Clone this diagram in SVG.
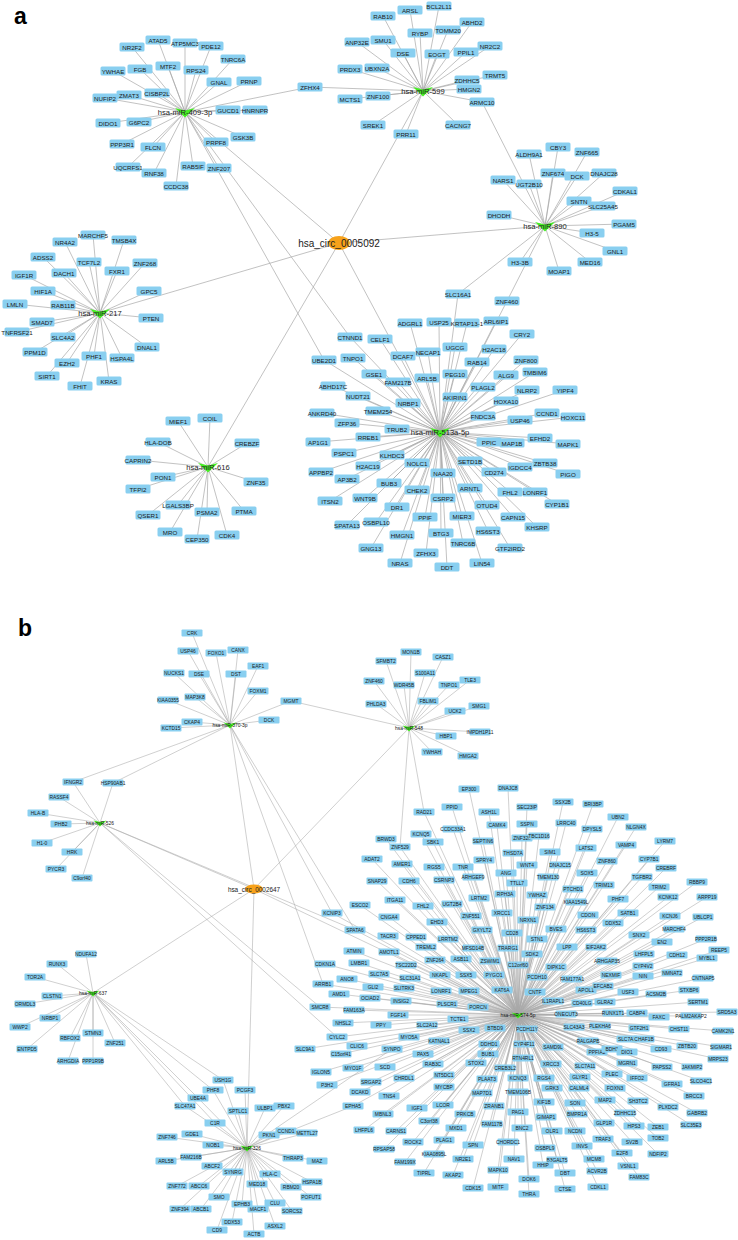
<svg xmlns="http://www.w3.org/2000/svg" xmlns:xlink="http://www.w3.org/1999/xlink" width="738" height="1240" viewBox="0 0 738 1240">
<style>
.e{fill:none;stroke:#a8a8a8;stroke-width:.7}
.eb{fill:none;stroke:#a8a8a8;stroke-width:.55}
text{font-family:"Liberation Sans",Arial,sans-serif;fill:#1a1a1a;text-anchor:middle;dominant-baseline:central}
.na text{font-size:6.2px}
.nb text{font-size:4.9px}
.ha{font-size:7.6px;fill:#222}
.hb{font-size:4.9px;fill:#111}
.ca{font-size:10px;fill:#222}
.cb{font-size:6.4px;fill:#222}
.pl{font-size:23px;font-weight:bold;text-anchor:start;dominant-baseline:auto;fill:#000}
</style>
<defs>
<rect id="ba" x="-12.5" y="-4.5" width="25" height="9" rx="1.5" fill="#89cff0"/>
<rect id="bb" x="-10.5" y="-3.5" width="21" height="7" rx="1" fill="#89cff0"/>
<polygon id="ta" points="-10,-4 0,-1.5 10,-4 0,5.5" fill="#44ee22"/>
<polygon id="tb" points="-6.5,-2.5 0,-1 6.5,-2.5 0,3.5" fill="#44ee22"/>
</defs>
<rect width="738" height="1240" fill="#fff"/>
<text class="pl" x="14" y="24">a</text>
<text class="pl" x="18" y="636">b</text>
<g id="connectors">
<path class="e" d="M339 243L185 112M339 243L423 91M339 243L545 226M339 243L100 313M339 243L208 467M339 243L440 432"/>
<path class="e" d="M185 112L158 40M185 112L132 47M185 112L185 43M185 112L211 46M185 112L233 59M185 112L113 71M185 112L140 69M185 112L168 66M185 112L196 70M185 112L219 82M185 112L249 81M185 112L105 98M185 112L129 95M185 112L157 93M185 112L228 110M185 112L255 110M185 112L108 123M185 112L139 122M185 112L243 137M185 112L122 144M185 112L153 147M185 112L216 142M185 112L128 167M185 112L154 173M185 112L193 166M185 112L219 168M185 112L176 186M185 112L310 87M185 112L324 360M185 112L350 337"/>
<path class="e" d="M423 91L410 10M423 91L439 6M423 91L383 16M423 91L472 22M423 91L448 30M423 91L420 33M423 91L357 42M423 91L383 40M423 91L403 53M423 91L437 54M423 91L466 52M423 91L490 46M423 91L350 69M423 91L377 68M423 91L495 75M423 91L467 80M423 91L469 89M423 91L310 87M423 91L350 99M423 91L378 96M423 91L482 102M423 91L373 125M423 91L458 125M423 91L406 134"/>
<path class="e" d="M545 226L558 147M545 226L587 152M545 226L529 154M545 226L553 173M545 226L577 176M545 226L604 173M545 226L503 180M545 226L529 184M545 226L625 191M545 226L579 201M545 226L603 206M545 226L499 215M545 226L624 224M545 226L592 233M545 226L615 251M545 226L590 262M545 226L520 262M545 226L559 271M545 226L482 102M545 226L458 294M545 226L507 301"/>
<path class="e" d="M100 313L93 235M100 313L65 242M100 313L124 240M100 313L43 257M100 313L89 262M100 313L145 263M100 313L24 275M100 313L64 273M100 313L117 271M100 313L43 291M100 313L149 291M100 313L15 304M100 313L63 305M100 313L151 318M100 313L42 322M100 313L17 332M100 313L63 337M100 313L147 347M100 313L35 352M100 313L94 356M100 313L122 358M100 313L67 363M100 313L47 376M100 313L109 381M100 313L80 386"/>
<path class="e" d="M208 467L178 421M208 467L210 418M208 467L158 442M208 467L247 443M208 467L138 460M208 467L163 477M208 467L256 482M208 467L138 489M208 467L178 505M208 467L244 511M208 467L148 515M208 467L207 512M208 467L170 532M208 467L227 535M208 467L197 539"/>
<path class="e" d="M440 432L458 294M440 432L507 301M440 432L410 323M440 432L439 322M440 432L467 323M440 432L496 321M440 432L522 334M440 432L350 337M440 432L380 339M440 432L455 347M440 432L494 349M440 432L403 356M440 432L428 352M440 432L526 360M440 432L324 360M440 432L353 358M440 432L477 362M440 432L535 372M440 432L374 374M440 432L398 382M440 432L427 378M440 432L455 374M440 432L506 375M440 432L333 386M440 432L483 387M440 432L527 390M440 432L565 390M440 432L358 396M440 432L455 397M440 432L506 401M440 432L408 403M440 432L322 413M440 432L378 411M440 432L483 416M440 432L547 413M440 432L573 417M440 432L520 420M440 432L347 423M440 432L397 429M440 432L368 437M440 432L318 442M440 432L489 442M440 432L512 443M440 432L540 438M440 432L568 444M440 432L344 453M440 432L392 455M440 432L470 461M440 432L545 463M440 432L417 463M440 432L368 466M440 432L520 467M440 432L568 474M440 432L321 472M440 432L443 473M440 432L494 472M440 432L347 479M440 432L389 483M440 432L470 488M440 432L417 490M440 432L510 492M440 432L535 492M440 432L365 498M440 432L330 501M440 432L443 498M440 432L557 504M440 432L487 505M440 432L397 507M440 432L425 517M440 432L462 516M440 432L513 517M440 432L347 525M440 432L376 522M440 432L537 527M440 432L402 535M440 432L441 533M440 432L488 531M440 432L463 543M440 432L371 548M440 432L510 548M440 432L426 553M440 432L400 563M440 432L482 563M440 432L447 567"/>
<path class="eb" d="M254 889L230 725M254 889L409 728M254 889L100 823M254 889L93 993M254 889L247 1148M254 889L518 1015"/>
<path class="eb" d="M230 725L192 633M230 725L188 651M230 725L216 653M230 725L238 650M230 725L258 666M230 725L174 673M230 725L199 674M230 725L236 674M230 725L258 691M230 725L168 700M230 725L195 697M230 725L291 701M230 725L192 722M230 725L269 720M230 725L171 728M230 725L73 782M230 725L113 783M230 725L332 913M230 725L355 930M230 725L323 984"/>
<path class="eb" d="M409 728L411 652M409 728L386 661M409 728L443 657M409 728L425 673M409 728L374 681M409 728L404 685M409 728L449 685M409 728L470 680M409 728L376 704M409 728L428 701M409 728L479 706M409 728L455 711M409 728L446 736M409 728L480 732M409 728L432 752M409 728L468 756M409 728L291 701M409 728L424 812M409 728L400 847"/>
<path class="eb" d="M100 823L73 782M100 823L113 783M100 823L59 797M100 823L38 813M100 823L61 824M100 823L42 843M100 823L72 852M100 823L56 869M100 823L82 878M100 823L355 930M100 823L320 1007M100 823L337 1037"/>
<path class="eb" d="M93 993L86 954M93 993L57 964M93 993L35 977M93 993L52 996M93 993L25 1004M93 993L50 1018M93 993L20 1027M93 993L70 1038M93 993L93 1033M93 993L115 1043M93 993L27 1049M93 993L68 1061M93 993L93 1061M93 993L223 1080M93 993L213 1090M93 993L198 1098M93 993L185 1106M93 993L215 1123"/>
<path class="eb" d="M247 1148L223 1080M247 1148L213 1090M247 1148L245 1090M247 1148L198 1098M247 1148L185 1106M247 1148L238 1111M247 1148L265 1108M247 1148L284 1106M247 1148L215 1123M247 1148L286 1131M247 1148L307 1133M247 1148L269 1135M247 1148L192 1134M247 1148L167 1137M247 1148L213 1145M247 1148L191 1157M247 1148L293 1158M247 1148L317 1161M247 1148L166 1161M247 1148L212 1166M247 1148L233 1172M247 1148L270 1174M247 1148L312 1182M247 1148L257 1184M247 1148L291 1187M247 1148L177 1186M247 1148L199 1186M247 1148L311 1197M247 1148L219 1197M247 1148L275 1203M247 1148L292 1211M247 1148L242 1204M247 1148L258 1209M247 1148L180 1209M247 1148L201 1209M247 1148L232 1222M247 1148L275 1226M247 1148L217 1230M247 1148L254 1234M247 1148L353 1106M247 1148L392 1049"/>
<path class="eb" d="M518 1015L469 789M518 1015L508 788M518 1015L424 812M518 1015L452 807M518 1015L527 807M518 1015L489 812M518 1015L563 802M518 1015L593 804M518 1015L618 817M518 1015L497 825M518 1015L527 824M518 1015L566 823M518 1015L592 829M518 1015L636 827M518 1015L421 834M518 1015L453 829M518 1015L522 838M518 1015L539 836M518 1015L386 839M518 1015L433 842M518 1015L483 841M518 1015L586 848M518 1015L626 845M518 1015L665 841M518 1015L400 847M518 1015L513 853M518 1015L550 852M518 1015L607 861M518 1015L649 859M518 1015L372 859M518 1015L402 864M518 1015L434 867M518 1015L463 867M518 1015L484 860M518 1015L527 865M518 1015L560 865M518 1015L666 868M518 1015L473 877M518 1015L506 873M518 1015L548 877M518 1015L587 873M518 1015L642 877M518 1015L697 882M518 1015L377 881M518 1015L409 881M518 1015L444 880M518 1015L517 883M518 1015L604 885M518 1015L659 887M518 1015L573 889M518 1015L505 894M518 1015L537 895M518 1015L707 897M518 1015L668 897M518 1015L479 898M518 1015L395 900M518 1015L423 906M518 1015L452 904M518 1015L576 902M518 1015L618 899M518 1015L360 905M518 1015L545 907M518 1015L628 913M518 1015L502 913M518 1015L389 917M518 1015L471 916M518 1015L588 915M518 1015L670 916M518 1015L703 917M518 1015L332 913M518 1015L437 922M518 1015L528 920M518 1015L613 923M518 1015L674 929M518 1015L355 930M518 1015L482 930M518 1015L512 933M518 1015L556 929M518 1015L586 930M518 1015L388 936M518 1015L416 937M518 1015L639 935M518 1015L662 942M518 1015L706 939M518 1015L448 939M518 1015L537 939M518 1015L354 951M518 1015L389 952M518 1015L426 947M518 1015L473 948M518 1015L508 948M518 1015L567 947M518 1015L596 947M518 1015L532 954M518 1015L644 954M518 1015L677 955M518 1015L719 950M518 1015L707 958M518 1015L325 964M518 1015L359 963M518 1015L406 965M518 1015L435 960M518 1015L461 959M518 1015L490 961M518 1015L518 965M518 1015L556 967M518 1015L607 961M518 1015L643 966M518 1015L347 979M518 1015L379 974M518 1015L410 978M518 1015L440 975M518 1015L466 975M518 1015L494 975M518 1015L537 977M518 1015L572 979M518 1015L611 975M518 1015L643 976M518 1015L672 973M518 1015L703 978M518 1015L323 984M518 1015L373 987M518 1015L404 988M518 1015L441 991M518 1015L469 991M518 1015L502 990M518 1015L586 990M518 1015L603 986M518 1015L535 992M518 1015L339 994M518 1015L370 998M518 1015L401 1001M518 1015L628 992M518 1015L656 994M518 1015L689 990M518 1015L553 1001M518 1015L582 1003M518 1015L605 1002M518 1015L698 1002M518 1015L447 1004M518 1015L478 1007M518 1015L320 1007M518 1015L354 1010M518 1015L566 1014M518 1015L613 1013M518 1015L637 1013M518 1015L659 1017M518 1015L691 1016M518 1015L727 1012M518 1015L398 1015M518 1015L458 1019M518 1015L343 1023M518 1015L381 1025M518 1015L427 1025M518 1015L600 1026M518 1015L639 1028M518 1015L679 1029M518 1015L723 1031M518 1015L469 1030M518 1015L495 1028M518 1015L527 1029M518 1015L574 1027M518 1015L409 1037M518 1015L337 1037M518 1015L439 1041M518 1015L588 1041M518 1015L627 1039M518 1015L644 1039M518 1015L687 1046M518 1015L489 1044M518 1015L524 1044M518 1015L553 1047M518 1015L357 1046M518 1015L392 1049M518 1015L305 1049M518 1015L597 1052M518 1015L612 1049M518 1015L627 1052M518 1015L661 1049M518 1015L721 1047M518 1015L341 1054M518 1015L423 1054M518 1015L488 1054M518 1015L523 1058M518 1015L718 1059M518 1015L627 1063M518 1015L433 1064M518 1015L476 1063M518 1015L551 1064M518 1015L585 1066M518 1015L662 1067M518 1015L692 1067M518 1015L321 1072M518 1015L353 1068M518 1015L385 1067M518 1015L505 1068M518 1015L444 1075M518 1015L612 1074M518 1015L580 1077M518 1015L701 1081M518 1015L637 1078M518 1015L544 1078M518 1015L404 1078M518 1015L518 1078M518 1015L487 1079M518 1015L672 1084M518 1015L327 1085M518 1015L371 1082M518 1015L444 1087M518 1015L552 1088M518 1015L579 1088M518 1015L615 1088M518 1015L482 1093M518 1015L518 1092M518 1015L360 1092M518 1015L694 1096M518 1015L389 1096M518 1015L605 1100M518 1015L638 1101M518 1015L668 1107M518 1015L544 1102M518 1015L575 1103M518 1015L494 1106M518 1015L443 1105M518 1015L417 1108M518 1015L353 1106M518 1015L697 1113M518 1015L383 1114M518 1015L518 1112M518 1015L577 1114M518 1015L546 1117M518 1015L625 1113M518 1015L465 1114M518 1015L429 1121M518 1015L492 1124M518 1015L604 1123M518 1015L634 1126M518 1015L658 1127M518 1015L691 1125M518 1015L456 1128M518 1015L522 1128M518 1015L552 1131M518 1015L575 1131M518 1015L364 1130M518 1015L396 1131M518 1015L658 1138M518 1015L603 1139M518 1015L444 1140M518 1015L413 1142M518 1015L508 1142M518 1015L632 1142M518 1015L473 1145M518 1015L582 1146M518 1015L545 1148M518 1015L384 1149M518 1015L434 1154M518 1015L622 1153M518 1015L658 1154M518 1015L557 1160M518 1015L594 1159M518 1015L514 1159M518 1015L463 1159M518 1015L405 1162M518 1015L543 1165M518 1015L628 1166M518 1015L498 1170M518 1015L597 1171M518 1015L565 1173M518 1015L424 1173M518 1015L453 1175M518 1015L639 1177M518 1015L529 1179M518 1015L598 1187M518 1015L473 1188M518 1015L498 1187M518 1015L565 1189M518 1015L529 1194"/>
</g>
<g id="nodes-a">
<g id="a-ATAD5" class="na" transform="translate(158,40)"><use href="#ba"/><text>ATAD5</text></g>
<g id="a-NR2F2" class="na" transform="translate(132,47)"><use href="#ba"/><text>NR2F2</text></g>
<g id="a-ATP5MC3" class="na" transform="translate(185,43)"><use href="#ba"/><text>ATP5MC3</text></g>
<g id="a-PDE12" class="na" transform="translate(211,46)"><use href="#ba"/><text>PDE12</text></g>
<g id="a-TNRC6A" class="na" transform="translate(233,59)"><use href="#ba"/><text>TNRC6A</text></g>
<g id="a-YWHAE" class="na" transform="translate(113,71)"><use href="#ba"/><text>YWHAE</text></g>
<g id="a-FGB" class="na" transform="translate(140,69)"><use href="#ba"/><text>FGB</text></g>
<g id="a-MTF2" class="na" transform="translate(168,66)"><use href="#ba"/><text>MTF2</text></g>
<g id="a-RPS24" class="na" transform="translate(196,70)"><use href="#ba"/><text>RPS24</text></g>
<g id="a-GNAL" class="na" transform="translate(219,82)"><use href="#ba"/><text>GNAL</text></g>
<g id="a-PRNP" class="na" transform="translate(249,81)"><use href="#ba"/><text>PRNP</text></g>
<g id="a-CISBP2L" class="na" transform="translate(157,93)"><use href="#ba"/><text>CISBP2L</text></g>
<g id="a-NUFIP2" class="na" transform="translate(105,98)"><use href="#ba"/><text>NUFIP2</text></g>
<g id="a-ZMAT3" class="na" transform="translate(129,95)"><use href="#ba"/><text>ZMAT3</text></g>
<g id="a-GUCD1" class="na" transform="translate(228,110)"><use href="#ba"/><text>GUCD1</text></g>
<g id="a-HNRNPR" class="na" transform="translate(255,110)"><use href="#ba"/><text>HNRNPR</text></g>
<g id="a-DIDO1" class="na" transform="translate(108,123)"><use href="#ba"/><text>DIDO1</text></g>
<g id="a-G6PC2" class="na" transform="translate(139,122)"><use href="#ba"/><text>G6PC2</text></g>
<g id="a-GSK3B" class="na" transform="translate(243,137)"><use href="#ba"/><text>GSK3B</text></g>
<g id="a-PPP3R1" class="na" transform="translate(122,144)"><use href="#ba"/><text>PPP3R1</text></g>
<g id="a-FLCN" class="na" transform="translate(153,147)"><use href="#ba"/><text>FLCN</text></g>
<g id="a-PRPF8" class="na" transform="translate(216,142)"><use href="#ba"/><text>PRPF8</text></g>
<g id="a-UQCRFS1" class="na" transform="translate(128,167)"><use href="#ba"/><text>UQCRFS1</text></g>
<g id="a-RNF38" class="na" transform="translate(154,173)"><use href="#ba"/><text>RNF38</text></g>
<g id="a-RAB5IF" class="na" transform="translate(193,166)"><use href="#ba"/><text>RAB5IF</text></g>
<g id="a-ZNF207" class="na" transform="translate(219,168)"><use href="#ba"/><text>ZNF207</text></g>
<g id="a-CCDC38" class="na" transform="translate(176,186)"><use href="#ba"/><text>CCDC38</text></g>
<g id="a-ZFHX4" class="na" transform="translate(310,87)"><use href="#ba"/><text>ZFHX4</text></g>
<g id="a-ARSL" class="na" transform="translate(410,10)"><use href="#ba"/><text>ARSL</text></g>
<g id="a-BCL2L11" class="na" transform="translate(439,6)"><use href="#ba"/><text>BCL2L11</text></g>
<g id="a-RAB10" class="na" transform="translate(383,16)"><use href="#ba"/><text>RAB10</text></g>
<g id="a-ABHD2" class="na" transform="translate(472,22)"><use href="#ba"/><text>ABHD2</text></g>
<g id="a-TOMM20" class="na" transform="translate(448,30)"><use href="#ba"/><text>TOMM20</text></g>
<g id="a-RYBP" class="na" transform="translate(420,33)"><use href="#ba"/><text>RYBP</text></g>
<g id="a-ANP32E" class="na" transform="translate(357,42)"><use href="#ba"/><text>ANP32E</text></g>
<g id="a-SMU1" class="na" transform="translate(383,40)"><use href="#ba"/><text>SMU1</text></g>
<g id="a-DSE" class="na" transform="translate(403,53)"><use href="#ba"/><text>DSE</text></g>
<g id="a-EOGT" class="na" transform="translate(437,54)"><use href="#ba"/><text>EOGT</text></g>
<g id="a-PPIL1" class="na" transform="translate(466,52)"><use href="#ba"/><text>PPIL1</text></g>
<g id="a-NR2C2" class="na" transform="translate(490,46)"><use href="#ba"/><text>NR2C2</text></g>
<g id="a-PRDX3" class="na" transform="translate(350,69)"><use href="#ba"/><text>PRDX3</text></g>
<g id="a-UBXN2A" class="na" transform="translate(377,68)"><use href="#ba"/><text>UBXN2A</text></g>
<g id="a-TRMT5" class="na" transform="translate(495,75)"><use href="#ba"/><text>TRMT5</text></g>
<g id="a-ZDHHC5" class="na" transform="translate(467,80)"><use href="#ba"/><text>ZDHHC5</text></g>
<g id="a-HMGN2" class="na" transform="translate(469,89)"><use href="#ba"/><text>HMGN2</text></g>
<g id="a-MCTS1" class="na" transform="translate(350,99)"><use href="#ba"/><text>MCTS1</text></g>
<g id="a-ZNF100" class="na" transform="translate(378,96)"><use href="#ba"/><text>ZNF100</text></g>
<g id="a-ARMC10" class="na" transform="translate(482,102)"><use href="#ba"/><text>ARMC10</text></g>
<g id="a-SREK1" class="na" transform="translate(373,125)"><use href="#ba"/><text>SREK1</text></g>
<g id="a-CACNG7" class="na" transform="translate(458,125)"><use href="#ba"/><text>CACNG7</text></g>
<g id="a-PRR11" class="na" transform="translate(406,134)"><use href="#ba"/><text>PRR11</text></g>
<g id="a-CBY3" class="na" transform="translate(558,147)"><use href="#ba"/><text>CBY3</text></g>
<g id="a-ZNF665" class="na" transform="translate(587,152)"><use href="#ba"/><text>ZNF665</text></g>
<g id="a-ALDH9A1" class="na" transform="translate(529,154)"><use href="#ba"/><text>ALDH9A1</text></g>
<g id="a-ZNF674" class="na" transform="translate(553,173)"><use href="#ba"/><text>ZNF674</text></g>
<g id="a-DCK" class="na" transform="translate(577,176)"><use href="#ba"/><text>DCK</text></g>
<g id="a-DNAJC28" class="na" transform="translate(604,173)"><use href="#ba"/><text>DNAJC28</text></g>
<g id="a-UGT2B10" class="na" transform="translate(529,184)"><use href="#ba"/><text>UGT2B10</text></g>
<g id="a-NARS1" class="na" transform="translate(503,180)"><use href="#ba"/><text>NARS1</text></g>
<g id="a-CDKAL1" class="na" transform="translate(625,191)"><use href="#ba"/><text>CDKAL1</text></g>
<g id="a-SLC25A45" class="na" transform="translate(603,206)"><use href="#ba"/><text>SLC25A45</text></g>
<g id="a-SNTN" class="na" transform="translate(579,201)"><use href="#ba"/><text>SNTN</text></g>
<g id="a-DHODH" class="na" transform="translate(499,215)"><use href="#ba"/><text>DHODH</text></g>
<g id="a-PGAM5" class="na" transform="translate(624,224)"><use href="#ba"/><text>PGAM5</text></g>
<g id="a-H3-5" class="na" transform="translate(592,233)"><use href="#ba"/><text>H3-5</text></g>
<g id="a-GNL1" class="na" transform="translate(615,251)"><use href="#ba"/><text>GNL1</text></g>
<g id="a-MED16" class="na" transform="translate(590,262)"><use href="#ba"/><text>MED16</text></g>
<g id="a-H3-3B" class="na" transform="translate(520,262)"><use href="#ba"/><text>H3-3B</text></g>
<g id="a-MOAP1" class="na" transform="translate(559,271)"><use href="#ba"/><text>MOAP1</text></g>
<g id="a-MARCHF5" class="na" transform="translate(93,235)"><use href="#ba"/><text>MARCHF5</text></g>
<g id="a-NR4A2" class="na" transform="translate(65,242)"><use href="#ba"/><text>NR4A2</text></g>
<g id="a-TMSB4X" class="na" transform="translate(124,240)"><use href="#ba"/><text>TMSB4X</text></g>
<g id="a-ADSS2" class="na" transform="translate(43,257)"><use href="#ba"/><text>ADSS2</text></g>
<g id="a-TCF7L2" class="na" transform="translate(89,262)"><use href="#ba"/><text>TCF7L2</text></g>
<g id="a-ZNF268" class="na" transform="translate(145,263)"><use href="#ba"/><text>ZNF268</text></g>
<g id="a-IGF1R" class="na" transform="translate(24,275)"><use href="#ba"/><text>IGF1R</text></g>
<g id="a-DACH1" class="na" transform="translate(64,273)"><use href="#ba"/><text>DACH1</text></g>
<g id="a-FXR1" class="na" transform="translate(117,271)"><use href="#ba"/><text>FXR1</text></g>
<g id="a-HIF1A" class="na" transform="translate(43,291)"><use href="#ba"/><text>HIF1A</text></g>
<g id="a-GPC5" class="na" transform="translate(149,291)"><use href="#ba"/><text>GPC5</text></g>
<g id="a-LMLN" class="na" transform="translate(15,304)"><use href="#ba"/><text>LMLN</text></g>
<g id="a-RAB11B" class="na" transform="translate(63,305)"><use href="#ba"/><text>RAB11B</text></g>
<g id="a-PTEN" class="na" transform="translate(151,318)"><use href="#ba"/><text>PTEN</text></g>
<g id="a-SMAD7" class="na" transform="translate(42,322)"><use href="#ba"/><text>SMAD7</text></g>
<g id="a-TNFRSF21" class="na" transform="translate(17,332)"><use href="#ba"/><text>TNFRSF21</text></g>
<g id="a-SLC4A2" class="na" transform="translate(63,337)"><use href="#ba"/><text>SLC4A2</text></g>
<g id="a-DNAL1" class="na" transform="translate(147,347)"><use href="#ba"/><text>DNAL1</text></g>
<g id="a-PPM1D" class="na" transform="translate(35,352)"><use href="#ba"/><text>PPM1D</text></g>
<g id="a-PHF1" class="na" transform="translate(94,356)"><use href="#ba"/><text>PHF1</text></g>
<g id="a-HSPA4L" class="na" transform="translate(122,358)"><use href="#ba"/><text>HSPA4L</text></g>
<g id="a-EZH2" class="na" transform="translate(67,363)"><use href="#ba"/><text>EZH2</text></g>
<g id="a-SIRT1" class="na" transform="translate(47,376)"><use href="#ba"/><text>SIRT1</text></g>
<g id="a-KRAS" class="na" transform="translate(109,381)"><use href="#ba"/><text>KRAS</text></g>
<g id="a-FHIT" class="na" transform="translate(80,386)"><use href="#ba"/><text>FHIT</text></g>
<g id="a-MIEF1" class="na" transform="translate(178,421)"><use href="#ba"/><text>MIEF1</text></g>
<g id="a-COIL" class="na" transform="translate(210,418)"><use href="#ba"/><text>COIL</text></g>
<g id="a-HLA-DOB" class="na" transform="translate(158,442)"><use href="#ba"/><text>HLA-DOB</text></g>
<g id="a-CREBZF" class="na" transform="translate(247,443)"><use href="#ba"/><text>CREBZF</text></g>
<g id="a-CAPRIN2" class="na" transform="translate(138,460)"><use href="#ba"/><text>CAPRIN2</text></g>
<g id="a-PON1" class="na" transform="translate(163,477)"><use href="#ba"/><text>PON1</text></g>
<g id="a-ZNF35" class="na" transform="translate(256,482)"><use href="#ba"/><text>ZNF35</text></g>
<g id="a-TFPI2" class="na" transform="translate(138,489)"><use href="#ba"/><text>TFPI2</text></g>
<g id="a-LGALS3BP" class="na" transform="translate(178,505)"><use href="#ba"/><text>LGALS3BP</text></g>
<g id="a-PTMA" class="na" transform="translate(244,511)"><use href="#ba"/><text>PTMA</text></g>
<g id="a-QSER1" class="na" transform="translate(148,515)"><use href="#ba"/><text>QSER1</text></g>
<g id="a-PSMA2" class="na" transform="translate(207,512)"><use href="#ba"/><text>PSMA2</text></g>
<g id="a-MRO" class="na" transform="translate(170,532)"><use href="#ba"/><text>MRO</text></g>
<g id="a-CDK4" class="na" transform="translate(227,535)"><use href="#ba"/><text>CDK4</text></g>
<g id="a-CEP350" class="na" transform="translate(197,539)"><use href="#ba"/><text>CEP350</text></g>
<g id="a-SLC16A1" class="na" transform="translate(458,294)"><use href="#ba"/><text>SLC16A1</text></g>
<g id="a-ZNF460" class="na" transform="translate(507,301)"><use href="#ba"/><text>ZNF460</text></g>
<g id="a-ADGRL1" class="na" transform="translate(410,323)"><use href="#ba"/><text>ADGRL1</text></g>
<g id="a-USP25" class="na" transform="translate(439,322)"><use href="#ba"/><text>USP25</text></g>
<g id="a-KRTAP13-1" class="na" transform="translate(467,323)"><use href="#ba"/><text>KRTAP13-1</text></g>
<g id="a-ARL6IP1" class="na" transform="translate(496,321)"><use href="#ba"/><text>ARL6IP1</text></g>
<g id="a-CRY2" class="na" transform="translate(522,334)"><use href="#ba"/><text>CRY2</text></g>
<g id="a-CTNND1" class="na" transform="translate(350,337)"><use href="#ba"/><text>CTNND1</text></g>
<g id="a-CELF1" class="na" transform="translate(380,339)"><use href="#ba"/><text>CELF1</text></g>
<g id="a-UGCG" class="na" transform="translate(455,347)"><use href="#ba"/><text>UGCG</text></g>
<g id="a-H2AC18" class="na" transform="translate(494,349)"><use href="#ba"/><text>H2AC18</text></g>
<g id="a-DCAF7" class="na" transform="translate(403,356)"><use href="#ba"/><text>DCAF7</text></g>
<g id="a-NECAP1" class="na" transform="translate(428,352)"><use href="#ba"/><text>NECAP1</text></g>
<g id="a-ZNF800" class="na" transform="translate(526,360)"><use href="#ba"/><text>ZNF800</text></g>
<g id="a-UBE2D1" class="na" transform="translate(324,360)"><use href="#ba"/><text>UBE2D1</text></g>
<g id="a-TNPO1" class="na" transform="translate(353,358)"><use href="#ba"/><text>TNPO1</text></g>
<g id="a-RAB14" class="na" transform="translate(477,362)"><use href="#ba"/><text>RAB14</text></g>
<g id="a-TMBIM6" class="na" transform="translate(535,372)"><use href="#ba"/><text>TMBIM6</text></g>
<g id="a-GSE1" class="na" transform="translate(374,374)"><use href="#ba"/><text>GSE1</text></g>
<g id="a-FAM217B" class="na" transform="translate(398,382)"><use href="#ba"/><text>FAM217B</text></g>
<g id="a-ARL5B" class="na" transform="translate(427,378)"><use href="#ba"/><text>ARL5B</text></g>
<g id="a-PEG10" class="na" transform="translate(455,374)"><use href="#ba"/><text>PEG10</text></g>
<g id="a-ALG9" class="na" transform="translate(506,375)"><use href="#ba"/><text>ALG9</text></g>
<g id="a-ABHD17C" class="na" transform="translate(333,386)"><use href="#ba"/><text>ABHD17C</text></g>
<g id="a-PLAGL2" class="na" transform="translate(483,387)"><use href="#ba"/><text>PLAGL2</text></g>
<g id="a-NLRP2" class="na" transform="translate(527,390)"><use href="#ba"/><text>NLRP2</text></g>
<g id="a-YIPF4" class="na" transform="translate(565,390)"><use href="#ba"/><text>YIPF4</text></g>
<g id="a-NUDT21" class="na" transform="translate(358,396)"><use href="#ba"/><text>NUDT21</text></g>
<g id="a-AKIRIN1" class="na" transform="translate(455,397)"><use href="#ba"/><text>AKIRIN1</text></g>
<g id="a-HOXA10" class="na" transform="translate(506,401)"><use href="#ba"/><text>HOXA10</text></g>
<g id="a-NRBP1" class="na" transform="translate(408,403)"><use href="#ba"/><text>NRBP1</text></g>
<g id="a-ANKRD40" class="na" transform="translate(322,413)"><use href="#ba"/><text>ANKRD40</text></g>
<g id="a-TMEM254" class="na" transform="translate(378,411)"><use href="#ba"/><text>TMEM254</text></g>
<g id="a-FNDC3A" class="na" transform="translate(483,416)"><use href="#ba"/><text>FNDC3A</text></g>
<g id="a-CCND1" class="na" transform="translate(547,413)"><use href="#ba"/><text>CCND1</text></g>
<g id="a-HOXC11" class="na" transform="translate(573,417)"><use href="#ba"/><text>HOXC11</text></g>
<g id="a-USP46" class="na" transform="translate(520,420)"><use href="#ba"/><text>USP46</text></g>
<g id="a-ZFP36" class="na" transform="translate(347,423)"><use href="#ba"/><text>ZFP36</text></g>
<g id="a-TRUB2" class="na" transform="translate(397,429)"><use href="#ba"/><text>TRUB2</text></g>
<g id="a-RREB1" class="na" transform="translate(368,437)"><use href="#ba"/><text>RREB1</text></g>
<g id="a-AP1G1" class="na" transform="translate(318,442)"><use href="#ba"/><text>AP1G1</text></g>
<g id="a-PPIC" class="na" transform="translate(489,442)"><use href="#ba"/><text>PPIC</text></g>
<g id="a-MAP1B" class="na" transform="translate(512,443)"><use href="#ba"/><text>MAP1B</text></g>
<g id="a-EFHD2" class="na" transform="translate(540,438)"><use href="#ba"/><text>EFHD2</text></g>
<g id="a-MAPK1" class="na" transform="translate(568,444)"><use href="#ba"/><text>MAPK1</text></g>
<g id="a-PSPC1" class="na" transform="translate(344,453)"><use href="#ba"/><text>PSPC1</text></g>
<g id="a-KLHDC3" class="na" transform="translate(392,455)"><use href="#ba"/><text>KLHDC3</text></g>
<g id="a-SETD1B" class="na" transform="translate(470,461)"><use href="#ba"/><text>SETD1B</text></g>
<g id="a-ZBTB38" class="na" transform="translate(545,463)"><use href="#ba"/><text>ZBTB38</text></g>
<g id="a-NOLC1" class="na" transform="translate(417,463)"><use href="#ba"/><text>NOLC1</text></g>
<g id="a-H2AC19" class="na" transform="translate(368,466)"><use href="#ba"/><text>H2AC19</text></g>
<g id="a-IGDCC4" class="na" transform="translate(520,467)"><use href="#ba"/><text>IGDCC4</text></g>
<g id="a-PIGO" class="na" transform="translate(568,474)"><use href="#ba"/><text>PIGO</text></g>
<g id="a-APPBP2" class="na" transform="translate(321,472)"><use href="#ba"/><text>APPBP2</text></g>
<g id="a-NAA20" class="na" transform="translate(443,473)"><use href="#ba"/><text>NAA20</text></g>
<g id="a-CD274" class="na" transform="translate(494,472)"><use href="#ba"/><text>CD274</text></g>
<g id="a-AP3B2" class="na" transform="translate(347,479)"><use href="#ba"/><text>AP3B2</text></g>
<g id="a-BUB3" class="na" transform="translate(389,483)"><use href="#ba"/><text>BUB3</text></g>
<g id="a-ARNTL" class="na" transform="translate(470,488)"><use href="#ba"/><text>ARNTL</text></g>
<g id="a-CHEK2" class="na" transform="translate(417,490)"><use href="#ba"/><text>CHEK2</text></g>
<g id="a-FHL2" class="na" transform="translate(510,492)"><use href="#ba"/><text>FHL2</text></g>
<g id="a-LONRF1" class="na" transform="translate(535,492)"><use href="#ba"/><text>LONRF1</text></g>
<g id="a-WNT9B" class="na" transform="translate(365,498)"><use href="#ba"/><text>WNT9B</text></g>
<g id="a-ITSN2" class="na" transform="translate(330,501)"><use href="#ba"/><text>ITSN2</text></g>
<g id="a-CSRP2" class="na" transform="translate(443,498)"><use href="#ba"/><text>CSRP2</text></g>
<g id="a-CYP1B1" class="na" transform="translate(557,504)"><use href="#ba"/><text>CYP1B1</text></g>
<g id="a-OTUD4" class="na" transform="translate(487,505)"><use href="#ba"/><text>OTUD4</text></g>
<g id="a-DR1" class="na" transform="translate(397,507)"><use href="#ba"/><text>DR1</text></g>
<g id="a-PPIF" class="na" transform="translate(425,517)"><use href="#ba"/><text>PPIF</text></g>
<g id="a-MIER3" class="na" transform="translate(462,516)"><use href="#ba"/><text>MIER3</text></g>
<g id="a-CAPN15" class="na" transform="translate(513,517)"><use href="#ba"/><text>CAPN15</text></g>
<g id="a-SPATA13" class="na" transform="translate(347,525)"><use href="#ba"/><text>SPATA13</text></g>
<g id="a-OSBPL10" class="na" transform="translate(376,522)"><use href="#ba"/><text>OSBPL10</text></g>
<g id="a-KHSRP" class="na" transform="translate(537,527)"><use href="#ba"/><text>KHSRP</text></g>
<g id="a-HMGN1" class="na" transform="translate(402,535)"><use href="#ba"/><text>HMGN1</text></g>
<g id="a-BTG3" class="na" transform="translate(441,533)"><use href="#ba"/><text>BTG3</text></g>
<g id="a-HS6ST3" class="na" transform="translate(488,531)"><use href="#ba"/><text>HS6ST3</text></g>
<g id="a-TNRC6B" class="na" transform="translate(463,543)"><use href="#ba"/><text>TNRC6B</text></g>
<g id="a-GNG13" class="na" transform="translate(371,548)"><use href="#ba"/><text>GNG13</text></g>
<g id="a-GTF2IRD2" class="na" transform="translate(510,548)"><use href="#ba"/><text>GTF2IRD2</text></g>
<g id="a-ZFHX3" class="na" transform="translate(426,553)"><use href="#ba"/><text>ZFHX3</text></g>
<g id="a-NRAS" class="na" transform="translate(400,563)"><use href="#ba"/><text>NRAS</text></g>
<g id="a-LIN54" class="na" transform="translate(482,563)"><use href="#ba"/><text>LIN54</text></g>
<g id="a-DDT" class="na" transform="translate(447,567)"><use href="#ba"/><text>DDT</text></g>
</g>
<g id="hubs-a">
<g id="a-circ_0005092"><ellipse cx="339" cy="243" rx="11" ry="7" fill="#f7a21b"/><text class="ca" x="339" y="243">hsa_circ_0005092</text></g>
<g id="a-miR-409-3p"><use href="#ta" x="185" y="112"/><text class="ha" x="185" y="112">hsa-miR-409-3p</text></g>
<g id="a-miR-599"><use href="#ta" x="423" y="91"/><text class="ha" x="423" y="91">hsa-miR-599</text></g>
<g id="a-miR-890"><use href="#ta" x="545" y="226"/><text class="ha" x="545" y="226">hsa-miR-890</text></g>
<g id="a-miR-217"><use href="#ta" x="100" y="313"/><text class="ha" x="100" y="313">hsa-miR-217</text></g>
<g id="a-miR-616"><use href="#ta" x="208" y="467"/><text class="ha" x="208" y="467">hsa-miR-616</text></g>
<g id="a-miR-513a-5p"><use href="#ta" x="440" y="432"/><text class="ha" x="440" y="432">hsa-miR-513a-5p</text></g>
</g>
<g id="nodes-b">
<g id="b-CRK" class="nb" transform="translate(192,633)"><use href="#bb"/><text>CRK</text></g>
<g id="b-USP46" class="nb" transform="translate(188,651)"><use href="#bb"/><text>USP46</text></g>
<g id="b-FOXO1" class="nb" transform="translate(216,653)"><use href="#bb"/><text>FOXO1</text></g>
<g id="b-CANX" class="nb" transform="translate(238,650)"><use href="#bb"/><text>CANX</text></g>
<g id="b-EAF1" class="nb" transform="translate(258,666)"><use href="#bb"/><text>EAF1</text></g>
<g id="b-NUCKS1" class="nb" transform="translate(174,673)"><use href="#bb"/><text>NUCKS1</text></g>
<g id="b-DSE" class="nb" transform="translate(199,674)"><use href="#bb"/><text>DSE</text></g>
<g id="b-DST" class="nb" transform="translate(236,674)"><use href="#bb"/><text>DST</text></g>
<g id="b-FOXM1" class="nb" transform="translate(258,691)"><use href="#bb"/><text>FOXM1</text></g>
<g id="b-KIAA0355" class="nb" transform="translate(168,700)"><use href="#bb"/><text>KIAA0355</text></g>
<g id="b-MAP3K8" class="nb" transform="translate(195,697)"><use href="#bb"/><text>MAP3K8</text></g>
<g id="b-MGMT" class="nb" transform="translate(291,701)"><use href="#bb"/><text>MGMT</text></g>
<g id="b-CKAP4" class="nb" transform="translate(192,722)"><use href="#bb"/><text>CKAP4</text></g>
<g id="b-DCK" class="nb" transform="translate(269,720)"><use href="#bb"/><text>DCK</text></g>
<g id="b-KCTD15" class="nb" transform="translate(171,728)"><use href="#bb"/><text>KCTD15</text></g>
<g id="b-MON1B" class="nb" transform="translate(411,652)"><use href="#bb"/><text>MON1B</text></g>
<g id="b-SFMBT2" class="nb" transform="translate(386,661)"><use href="#bb"/><text>SFMBT2</text></g>
<g id="b-CASZ1" class="nb" transform="translate(443,657)"><use href="#bb"/><text>CASZ1</text></g>
<g id="b-S100A11" class="nb" transform="translate(425,673)"><use href="#bb"/><text>S100A11</text></g>
<g id="b-ZNF460" class="nb" transform="translate(374,681)"><use href="#bb"/><text>ZNF460</text></g>
<g id="b-WDR45B" class="nb" transform="translate(404,685)"><use href="#bb"/><text>WDR45B</text></g>
<g id="b-TNPO1" class="nb" transform="translate(449,685)"><use href="#bb"/><text>TNPO1</text></g>
<g id="b-TLE3" class="nb" transform="translate(470,680)"><use href="#bb"/><text>TLE3</text></g>
<g id="b-PHLDA3" class="nb" transform="translate(376,704)"><use href="#bb"/><text>PHLDA3</text></g>
<g id="b-FBLIM1" class="nb" transform="translate(428,701)"><use href="#bb"/><text>FBLIM1</text></g>
<g id="b-SMG1" class="nb" transform="translate(479,706)"><use href="#bb"/><text>SMG1</text></g>
<g id="b-UCK2" class="nb" transform="translate(455,711)"><use href="#bb"/><text>UCK2</text></g>
<g id="b-HBP1" class="nb" transform="translate(446,736)"><use href="#bb"/><text>HBP1</text></g>
<g id="b-IMPDH1P11" class="nb" transform="translate(480,732)"><use href="#bb"/><text>IMPDH1P11</text></g>
<g id="b-YWHAH" class="nb" transform="translate(432,752)"><use href="#bb"/><text>YWHAH</text></g>
<g id="b-HMGA2" class="nb" transform="translate(468,756)"><use href="#bb"/><text>HMGA2</text></g>
<g id="b-IFNGR2" class="nb" transform="translate(73,782)"><use href="#bb"/><text>IFNGR2</text></g>
<g id="b-HSP90AB1" class="nb" transform="translate(113,783)"><use href="#bb"/><text>HSP90AB1</text></g>
<g id="b-RASSF4" class="nb" transform="translate(59,797)"><use href="#bb"/><text>RASSF4</text></g>
<g id="b-HLA-B" class="nb" transform="translate(38,813)"><use href="#bb"/><text>HLA-B</text></g>
<g id="b-PHB2" class="nb" transform="translate(61,824)"><use href="#bb"/><text>PHB2</text></g>
<g id="b-H1-0" class="nb" transform="translate(42,843)"><use href="#bb"/><text>H1-0</text></g>
<g id="b-HRK" class="nb" transform="translate(72,852)"><use href="#bb"/><text>HRK</text></g>
<g id="b-PYCR3" class="nb" transform="translate(56,869)"><use href="#bb"/><text>PYCR3</text></g>
<g id="b-C9orf40" class="nb" transform="translate(82,878)"><use href="#bb"/><text>C9orf40</text></g>
<g id="b-NDUFA12" class="nb" transform="translate(86,954)"><use href="#bb"/><text>NDUFA12</text></g>
<g id="b-RUNX3" class="nb" transform="translate(57,964)"><use href="#bb"/><text>RUNX3</text></g>
<g id="b-TOR2A" class="nb" transform="translate(35,977)"><use href="#bb"/><text>TOR2A</text></g>
<g id="b-CLSTN1" class="nb" transform="translate(52,996)"><use href="#bb"/><text>CLSTN1</text></g>
<g id="b-ORMDL3" class="nb" transform="translate(25,1004)"><use href="#bb"/><text>ORMDL3</text></g>
<g id="b-NRBP1" class="nb" transform="translate(50,1018)"><use href="#bb"/><text>NRBP1</text></g>
<g id="b-WWP2" class="nb" transform="translate(20,1027)"><use href="#bb"/><text>WWP2</text></g>
<g id="b-RBFOX2" class="nb" transform="translate(70,1038)"><use href="#bb"/><text>RBFOX2</text></g>
<g id="b-STMN3" class="nb" transform="translate(93,1033)"><use href="#bb"/><text>STMN3</text></g>
<g id="b-ZNF251" class="nb" transform="translate(115,1043)"><use href="#bb"/><text>ZNF251</text></g>
<g id="b-ENTPD5" class="nb" transform="translate(27,1049)"><use href="#bb"/><text>ENTPD5</text></g>
<g id="b-ARHGDIA" class="nb" transform="translate(68,1061)"><use href="#bb"/><text>ARHGDIA</text></g>
<g id="b-PPP1R9B" class="nb" transform="translate(93,1061)"><use href="#bb"/><text>PPP1R9B</text></g>
<g id="b-USH1G" class="nb" transform="translate(223,1080)"><use href="#bb"/><text>USH1G</text></g>
<g id="b-PHF8" class="nb" transform="translate(213,1090)"><use href="#bb"/><text>PHF8</text></g>
<g id="b-PCGF3" class="nb" transform="translate(245,1090)"><use href="#bb"/><text>PCGF3</text></g>
<g id="b-UBE4A" class="nb" transform="translate(198,1098)"><use href="#bb"/><text>UBE4A</text></g>
<g id="b-SLC47A1" class="nb" transform="translate(185,1106)"><use href="#bb"/><text>SLC47A1</text></g>
<g id="b-SPTLC1" class="nb" transform="translate(238,1111)"><use href="#bb"/><text>SPTLC1</text></g>
<g id="b-ULBP1" class="nb" transform="translate(265,1108)"><use href="#bb"/><text>ULBP1</text></g>
<g id="b-PBX2" class="nb" transform="translate(284,1106)"><use href="#bb"/><text>PBX2</text></g>
<g id="b-C1R" class="nb" transform="translate(215,1123)"><use href="#bb"/><text>C1R</text></g>
<g id="b-PKN1" class="nb" transform="translate(269,1135)"><use href="#bb"/><text>PKN1</text></g>
<g id="b-CCND1" class="nb" transform="translate(286,1131)"><use href="#bb"/><text>CCND1</text></g>
<g id="b-METTL27" class="nb" transform="translate(307,1133)"><use href="#bb"/><text>METTL27</text></g>
<g id="b-GDE1" class="nb" transform="translate(192,1134)"><use href="#bb"/><text>GDE1</text></g>
<g id="b-ZNF746" class="nb" transform="translate(167,1137)"><use href="#bb"/><text>ZNF746</text></g>
<g id="b-NOB1" class="nb" transform="translate(213,1145)"><use href="#bb"/><text>NOB1</text></g>
<g id="b-FAM216B" class="nb" transform="translate(191,1157)"><use href="#bb"/><text>FAM216B</text></g>
<g id="b-THRAP3" class="nb" transform="translate(293,1158)"><use href="#bb"/><text>THRAP3</text></g>
<g id="b-MAZ" class="nb" transform="translate(317,1161)"><use href="#bb"/><text>MAZ</text></g>
<g id="b-ARL5B" class="nb" transform="translate(166,1161)"><use href="#bb"/><text>ARL5B</text></g>
<g id="b-ABCF2" class="nb" transform="translate(212,1166)"><use href="#bb"/><text>ABCF2</text></g>
<g id="b-SYNRG" class="nb" transform="translate(233,1172)"><use href="#bb"/><text>SYNRG</text></g>
<g id="b-HLA-C" class="nb" transform="translate(270,1174)"><use href="#bb"/><text>HLA-C</text></g>
<g id="b-HSPA1B" class="nb" transform="translate(312,1182)"><use href="#bb"/><text>HSPA1B</text></g>
<g id="b-MED18" class="nb" transform="translate(257,1184)"><use href="#bb"/><text>MED18</text></g>
<g id="b-RBM20" class="nb" transform="translate(291,1187)"><use href="#bb"/><text>RBM20</text></g>
<g id="b-ZNF772" class="nb" transform="translate(177,1186)"><use href="#bb"/><text>ZNF772</text></g>
<g id="b-ABCC6" class="nb" transform="translate(199,1186)"><use href="#bb"/><text>ABCC6</text></g>
<g id="b-POFUT1" class="nb" transform="translate(311,1197)"><use href="#bb"/><text>POFUT1</text></g>
<g id="b-SMO" class="nb" transform="translate(219,1197)"><use href="#bb"/><text>SMO</text></g>
<g id="b-MACF1" class="nb" transform="translate(258,1209)"><use href="#bb"/><text>MACF1</text></g>
<g id="b-SORCS2" class="nb" transform="translate(292,1211)"><use href="#bb"/><text>SORCS2</text></g>
<g id="b-CLU" class="nb" transform="translate(275,1203)"><use href="#bb"/><text>CLU</text></g>
<g id="b-EPHB3" class="nb" transform="translate(242,1204)"><use href="#bb"/><text>EPHB3</text></g>
<g id="b-ZNF394" class="nb" transform="translate(180,1209)"><use href="#bb"/><text>ZNF394</text></g>
<g id="b-ABCB1" class="nb" transform="translate(201,1209)"><use href="#bb"/><text>ABCB1</text></g>
<g id="b-DDX53" class="nb" transform="translate(232,1222)"><use href="#bb"/><text>DDX53</text></g>
<g id="b-ASXL2" class="nb" transform="translate(275,1226)"><use href="#bb"/><text>ASXL2</text></g>
<g id="b-CD9" class="nb" transform="translate(217,1230)"><use href="#bb"/><text>CD9</text></g>
<g id="b-ACTB" class="nb" transform="translate(254,1234)"><use href="#bb"/><text>ACTB</text></g>
<g id="b-EP300" class="nb" transform="translate(469,789)"><use href="#bb"/><text>EP300</text></g>
<g id="b-DNAJC8" class="nb" transform="translate(508,788)"><use href="#bb"/><text>DNAJC8</text></g>
<g id="b-RAD21" class="nb" transform="translate(424,812)"><use href="#bb"/><text>RAD21</text></g>
<g id="b-PPID" class="nb" transform="translate(452,807)"><use href="#bb"/><text>PPID</text></g>
<g id="b-SEC23IP" class="nb" transform="translate(527,807)"><use href="#bb"/><text>SEC23IP</text></g>
<g id="b-ASH1L" class="nb" transform="translate(489,812)"><use href="#bb"/><text>ASH1L</text></g>
<g id="b-SSX2B" class="nb" transform="translate(563,802)"><use href="#bb"/><text>SSX2B</text></g>
<g id="b-BRI3BP" class="nb" transform="translate(593,804)"><use href="#bb"/><text>BRI3BP</text></g>
<g id="b-UBN2" class="nb" transform="translate(618,817)"><use href="#bb"/><text>UBN2</text></g>
<g id="b-CAMK4" class="nb" transform="translate(497,825)"><use href="#bb"/><text>CAMK4</text></g>
<g id="b-SSPN" class="nb" transform="translate(527,824)"><use href="#bb"/><text>SSPN</text></g>
<g id="b-LRRC40" class="nb" transform="translate(566,823)"><use href="#bb"/><text>LRRC40</text></g>
<g id="b-DPYSL5" class="nb" transform="translate(592,829)"><use href="#bb"/><text>DPYSL5</text></g>
<g id="b-NLGN4X" class="nb" transform="translate(636,827)"><use href="#bb"/><text>NLGN4X</text></g>
<g id="b-KCNQ5" class="nb" transform="translate(421,834)"><use href="#bb"/><text>KCNQ5</text></g>
<g id="b-CCDC33A1" class="nb" transform="translate(453,829)"><use href="#bb"/><text>CCDC33A1</text></g>
<g id="b-ZNF326" class="nb" transform="translate(522,838)"><use href="#bb"/><text>ZNF326</text></g>
<g id="b-TBC1D16" class="nb" transform="translate(539,836)"><use href="#bb"/><text>TBC1D16</text></g>
<g id="b-BRWD3" class="nb" transform="translate(386,839)"><use href="#bb"/><text>BRWD3</text></g>
<g id="b-SBK1" class="nb" transform="translate(433,842)"><use href="#bb"/><text>SBK1</text></g>
<g id="b-SEPTIN6" class="nb" transform="translate(483,841)"><use href="#bb"/><text>SEPTIN6</text></g>
<g id="b-LATS2" class="nb" transform="translate(586,848)"><use href="#bb"/><text>LATS2</text></g>
<g id="b-VAMP4" class="nb" transform="translate(626,845)"><use href="#bb"/><text>VAMP4</text></g>
<g id="b-LYRM7" class="nb" transform="translate(665,841)"><use href="#bb"/><text>LYRM7</text></g>
<g id="b-ZNF529" class="nb" transform="translate(400,847)"><use href="#bb"/><text>ZNF529</text></g>
<g id="b-THSD7A" class="nb" transform="translate(513,853)"><use href="#bb"/><text>THSD7A</text></g>
<g id="b-SIM1" class="nb" transform="translate(550,852)"><use href="#bb"/><text>SIM1</text></g>
<g id="b-ZNF860" class="nb" transform="translate(607,861)"><use href="#bb"/><text>ZNF860</text></g>
<g id="b-CYP7B1" class="nb" transform="translate(649,859)"><use href="#bb"/><text>CYP7B1</text></g>
<g id="b-ADAT2" class="nb" transform="translate(372,859)"><use href="#bb"/><text>ADAT2</text></g>
<g id="b-AMER1" class="nb" transform="translate(402,864)"><use href="#bb"/><text>AMER1</text></g>
<g id="b-RGS5" class="nb" transform="translate(434,867)"><use href="#bb"/><text>RGS5</text></g>
<g id="b-TNR" class="nb" transform="translate(463,867)"><use href="#bb"/><text>TNR</text></g>
<g id="b-SPRY4" class="nb" transform="translate(484,860)"><use href="#bb"/><text>SPRY4</text></g>
<g id="b-WNT4" class="nb" transform="translate(527,865)"><use href="#bb"/><text>WNT4</text></g>
<g id="b-DNAJC15" class="nb" transform="translate(560,865)"><use href="#bb"/><text>DNAJC15</text></g>
<g id="b-CREBRF" class="nb" transform="translate(666,868)"><use href="#bb"/><text>CREBRF</text></g>
<g id="b-ARHGEF9" class="nb" transform="translate(473,877)"><use href="#bb"/><text>ARHGEF9</text></g>
<g id="b-ANG" class="nb" transform="translate(506,873)"><use href="#bb"/><text>ANG</text></g>
<g id="b-TMEM130" class="nb" transform="translate(548,877)"><use href="#bb"/><text>TMEM130</text></g>
<g id="b-SOX5" class="nb" transform="translate(587,873)"><use href="#bb"/><text>SOX5</text></g>
<g id="b-TGFBR2" class="nb" transform="translate(642,877)"><use href="#bb"/><text>TGFBR2</text></g>
<g id="b-RBBP9" class="nb" transform="translate(697,882)"><use href="#bb"/><text>RBBP9</text></g>
<g id="b-SNAP29" class="nb" transform="translate(377,881)"><use href="#bb"/><text>SNAP29</text></g>
<g id="b-CDH6" class="nb" transform="translate(409,881)"><use href="#bb"/><text>CDH6</text></g>
<g id="b-CSRNP3" class="nb" transform="translate(444,880)"><use href="#bb"/><text>CSRNP3</text></g>
<g id="b-TTLL7" class="nb" transform="translate(517,883)"><use href="#bb"/><text>TTLL7</text></g>
<g id="b-TRIM13" class="nb" transform="translate(604,885)"><use href="#bb"/><text>TRIM13</text></g>
<g id="b-TRIM2" class="nb" transform="translate(659,887)"><use href="#bb"/><text>TRIM2</text></g>
<g id="b-PTCHD1" class="nb" transform="translate(573,889)"><use href="#bb"/><text>PTCHD1</text></g>
<g id="b-RPH3A" class="nb" transform="translate(505,894)"><use href="#bb"/><text>RPH3A</text></g>
<g id="b-YWHAZ" class="nb" transform="translate(537,895)"><use href="#bb"/><text>YWHAZ</text></g>
<g id="b-ARPP19" class="nb" transform="translate(707,897)"><use href="#bb"/><text>ARPP19</text></g>
<g id="b-KCNK12" class="nb" transform="translate(668,897)"><use href="#bb"/><text>KCNK12</text></g>
<g id="b-LRTM2" class="nb" transform="translate(479,898)"><use href="#bb"/><text>LRTM2</text></g>
<g id="b-ITGA11" class="nb" transform="translate(395,900)"><use href="#bb"/><text>ITGA11</text></g>
<g id="b-FHL2" class="nb" transform="translate(423,906)"><use href="#bb"/><text>FHL2</text></g>
<g id="b-UGT2B4" class="nb" transform="translate(452,904)"><use href="#bb"/><text>UGT2B4</text></g>
<g id="b-KIAA1549L" class="nb" transform="translate(576,902)"><use href="#bb"/><text>KIAA1549L</text></g>
<g id="b-PHF7" class="nb" transform="translate(618,899)"><use href="#bb"/><text>PHF7</text></g>
<g id="b-ESCO2" class="nb" transform="translate(360,905)"><use href="#bb"/><text>ESCO2</text></g>
<g id="b-ZNF134" class="nb" transform="translate(545,907)"><use href="#bb"/><text>ZNF134</text></g>
<g id="b-SATB1" class="nb" transform="translate(628,913)"><use href="#bb"/><text>SATB1</text></g>
<g id="b-XRCC1" class="nb" transform="translate(502,913)"><use href="#bb"/><text>XRCC1</text></g>
<g id="b-CNGA4" class="nb" transform="translate(389,917)"><use href="#bb"/><text>CNGA4</text></g>
<g id="b-ZNF551" class="nb" transform="translate(471,916)"><use href="#bb"/><text>ZNF551</text></g>
<g id="b-CDON" class="nb" transform="translate(588,915)"><use href="#bb"/><text>CDON</text></g>
<g id="b-KCNJ6" class="nb" transform="translate(670,916)"><use href="#bb"/><text>KCNJ6</text></g>
<g id="b-UBLCP1" class="nb" transform="translate(703,917)"><use href="#bb"/><text>UBLCP1</text></g>
<g id="b-KCNIP3" class="nb" transform="translate(332,913)"><use href="#bb"/><text>KCNIP3</text></g>
<g id="b-EHD3" class="nb" transform="translate(437,922)"><use href="#bb"/><text>EHD3</text></g>
<g id="b-NRXN1" class="nb" transform="translate(528,920)"><use href="#bb"/><text>NRXN1</text></g>
<g id="b-DDX52" class="nb" transform="translate(613,923)"><use href="#bb"/><text>DDX52</text></g>
<g id="b-MARCHF4" class="nb" transform="translate(674,929)"><use href="#bb"/><text>MARCHF4</text></g>
<g id="b-SPATA6" class="nb" transform="translate(355,930)"><use href="#bb"/><text>SPATA6</text></g>
<g id="b-GXYLT2" class="nb" transform="translate(482,930)"><use href="#bb"/><text>GXYLT2</text></g>
<g id="b-CD28" class="nb" transform="translate(512,933)"><use href="#bb"/><text>CD28</text></g>
<g id="b-BVES" class="nb" transform="translate(556,929)"><use href="#bb"/><text>BVES</text></g>
<g id="b-HS6ST3" class="nb" transform="translate(586,930)"><use href="#bb"/><text>HS6ST3</text></g>
<g id="b-TACR3" class="nb" transform="translate(388,936)"><use href="#bb"/><text>TACR3</text></g>
<g id="b-CPPED1" class="nb" transform="translate(416,937)"><use href="#bb"/><text>CPPED1</text></g>
<g id="b-SNX2" class="nb" transform="translate(639,935)"><use href="#bb"/><text>SNX2</text></g>
<g id="b-EN2" class="nb" transform="translate(662,942)"><use href="#bb"/><text>EN2</text></g>
<g id="b-PPP2R1B" class="nb" transform="translate(706,939)"><use href="#bb"/><text>PPP2R1B</text></g>
<g id="b-LRRTM2" class="nb" transform="translate(448,939)"><use href="#bb"/><text>LRRTM2</text></g>
<g id="b-STN1" class="nb" transform="translate(537,939)"><use href="#bb"/><text>STN1</text></g>
<g id="b-ATMIN" class="nb" transform="translate(354,951)"><use href="#bb"/><text>ATMIN</text></g>
<g id="b-AMOTL1" class="nb" transform="translate(389,952)"><use href="#bb"/><text>AMOTL1</text></g>
<g id="b-TREML2" class="nb" transform="translate(426,947)"><use href="#bb"/><text>TREML2</text></g>
<g id="b-MFSD14B" class="nb" transform="translate(473,948)"><use href="#bb"/><text>MFSD14B</text></g>
<g id="b-TRARG1" class="nb" transform="translate(508,948)"><use href="#bb"/><text>TRARG1</text></g>
<g id="b-LPP" class="nb" transform="translate(567,947)"><use href="#bb"/><text>LPP</text></g>
<g id="b-EIF2AK2" class="nb" transform="translate(596,947)"><use href="#bb"/><text>EIF2AK2</text></g>
<g id="b-SDK2" class="nb" transform="translate(532,954)"><use href="#bb"/><text>SDK2</text></g>
<g id="b-LHFPL5" class="nb" transform="translate(644,954)"><use href="#bb"/><text>LHFPL5</text></g>
<g id="b-CDH12" class="nb" transform="translate(677,955)"><use href="#bb"/><text>CDH12</text></g>
<g id="b-REEP5" class="nb" transform="translate(719,950)"><use href="#bb"/><text>REEP5</text></g>
<g id="b-MYBL1" class="nb" transform="translate(707,958)"><use href="#bb"/><text>MYBL1</text></g>
<g id="b-CDKN1A" class="nb" transform="translate(325,964)"><use href="#bb"/><text>CDKN1A</text></g>
<g id="b-LMBR1" class="nb" transform="translate(359,963)"><use href="#bb"/><text>LMBR1</text></g>
<g id="b-TSC22D2" class="nb" transform="translate(406,965)"><use href="#bb"/><text>TSC22D2</text></g>
<g id="b-ZNF264" class="nb" transform="translate(435,960)"><use href="#bb"/><text>ZNF264</text></g>
<g id="b-ASB11" class="nb" transform="translate(461,959)"><use href="#bb"/><text>ASB11</text></g>
<g id="b-ZSWIM1" class="nb" transform="translate(490,961)"><use href="#bb"/><text>ZSWIM1</text></g>
<g id="b-C12orf60" class="nb" transform="translate(518,965)"><use href="#bb"/><text>C12orf60</text></g>
<g id="b-DIPK1C" class="nb" transform="translate(556,967)"><use href="#bb"/><text>DIPK1C</text></g>
<g id="b-ARHGAP35" class="nb" transform="translate(607,961)"><use href="#bb"/><text>ARHGAP35</text></g>
<g id="b-CYP4V2" class="nb" transform="translate(643,966)"><use href="#bb"/><text>CYP4V2</text></g>
<g id="b-ANO8" class="nb" transform="translate(347,979)"><use href="#bb"/><text>ANO8</text></g>
<g id="b-SLC7A5" class="nb" transform="translate(379,974)"><use href="#bb"/><text>SLC7A5</text></g>
<g id="b-SLC31A1" class="nb" transform="translate(410,978)"><use href="#bb"/><text>SLC31A1</text></g>
<g id="b-NKAPL" class="nb" transform="translate(440,975)"><use href="#bb"/><text>NKAPL</text></g>
<g id="b-SSX5" class="nb" transform="translate(466,975)"><use href="#bb"/><text>SSX5</text></g>
<g id="b-PYGO1" class="nb" transform="translate(494,975)"><use href="#bb"/><text>PYGO1</text></g>
<g id="b-PCDH10" class="nb" transform="translate(537,977)"><use href="#bb"/><text>PCDH10</text></g>
<g id="b-FAM177A1" class="nb" transform="translate(572,979)"><use href="#bb"/><text>FAM177A1</text></g>
<g id="b-NEXMIF" class="nb" transform="translate(611,975)"><use href="#bb"/><text>NEXMIF</text></g>
<g id="b-NIN" class="nb" transform="translate(643,976)"><use href="#bb"/><text>NIN</text></g>
<g id="b-NMNAT2" class="nb" transform="translate(672,973)"><use href="#bb"/><text>NMNAT2</text></g>
<g id="b-CNTNAP5" class="nb" transform="translate(703,978)"><use href="#bb"/><text>CNTNAP5</text></g>
<g id="b-ARRB1" class="nb" transform="translate(323,984)"><use href="#bb"/><text>ARRB1</text></g>
<g id="b-GLI2" class="nb" transform="translate(373,987)"><use href="#bb"/><text>GLI2</text></g>
<g id="b-SLITRK3" class="nb" transform="translate(404,988)"><use href="#bb"/><text>SLITRK3</text></g>
<g id="b-LONRF1" class="nb" transform="translate(441,991)"><use href="#bb"/><text>LONRF1</text></g>
<g id="b-MPEG1" class="nb" transform="translate(469,991)"><use href="#bb"/><text>MPEG1</text></g>
<g id="b-KAT6A" class="nb" transform="translate(502,990)"><use href="#bb"/><text>KAT6A</text></g>
<g id="b-APOL1" class="nb" transform="translate(586,990)"><use href="#bb"/><text>APOL1</text></g>
<g id="b-EFCAB2" class="nb" transform="translate(603,986)"><use href="#bb"/><text>EFCAB2</text></g>
<g id="b-CNTF" class="nb" transform="translate(535,992)"><use href="#bb"/><text>CNTF</text></g>
<g id="b-AMD1" class="nb" transform="translate(339,994)"><use href="#bb"/><text>AMD1</text></g>
<g id="b-OCIAD2" class="nb" transform="translate(370,998)"><use href="#bb"/><text>OCIAD2</text></g>
<g id="b-INSIG2" class="nb" transform="translate(401,1001)"><use href="#bb"/><text>INSIG2</text></g>
<g id="b-USF3" class="nb" transform="translate(628,992)"><use href="#bb"/><text>USF3</text></g>
<g id="b-ACSM2B" class="nb" transform="translate(656,994)"><use href="#bb"/><text>ACSM2B</text></g>
<g id="b-STXBP6" class="nb" transform="translate(689,990)"><use href="#bb"/><text>STXBP6</text></g>
<g id="b-IL1RAPL1" class="nb" transform="translate(553,1001)"><use href="#bb"/><text>IL1RAPL1</text></g>
<g id="b-CD40LG" class="nb" transform="translate(582,1003)"><use href="#bb"/><text>CD40LG</text></g>
<g id="b-GLRA2" class="nb" transform="translate(605,1002)"><use href="#bb"/><text>GLRA2</text></g>
<g id="b-SERTM1" class="nb" transform="translate(698,1002)"><use href="#bb"/><text>SERTM1</text></g>
<g id="b-PLSCR1" class="nb" transform="translate(447,1004)"><use href="#bb"/><text>PLSCR1</text></g>
<g id="b-PORCN" class="nb" transform="translate(478,1007)"><use href="#bb"/><text>PORCN</text></g>
<g id="b-SMCR8" class="nb" transform="translate(320,1007)"><use href="#bb"/><text>SMCR8</text></g>
<g id="b-FAM163A" class="nb" transform="translate(354,1010)"><use href="#bb"/><text>FAM163A</text></g>
<g id="b-ONECUT3" class="nb" transform="translate(566,1014)"><use href="#bb"/><text>ONECUT3</text></g>
<g id="b-RUNX1T1" class="nb" transform="translate(613,1013)"><use href="#bb"/><text>RUNX1T1</text></g>
<g id="b-CABP4" class="nb" transform="translate(637,1013)"><use href="#bb"/><text>CABP4</text></g>
<g id="b-FAXC" class="nb" transform="translate(659,1017)"><use href="#bb"/><text>FAXC</text></g>
<g id="b-PALM2AKAP2" class="nb" transform="translate(691,1016)"><use href="#bb"/><text>PALM2AKAP2</text></g>
<g id="b-SRD5A3" class="nb" transform="translate(727,1012)"><use href="#bb"/><text>SRD5A3</text></g>
<g id="b-FGF14" class="nb" transform="translate(398,1015)"><use href="#bb"/><text>FGF14</text></g>
<g id="b-TCTE1" class="nb" transform="translate(458,1019)"><use href="#bb"/><text>TCTE1</text></g>
<g id="b-NHSL2" class="nb" transform="translate(343,1023)"><use href="#bb"/><text>NHSL2</text></g>
<g id="b-PPY" class="nb" transform="translate(381,1025)"><use href="#bb"/><text>PPY</text></g>
<g id="b-SLC2A12" class="nb" transform="translate(427,1025)"><use href="#bb"/><text>SLC2A12</text></g>
<g id="b-PLEKHA6" class="nb" transform="translate(600,1026)"><use href="#bb"/><text>PLEKHA6</text></g>
<g id="b-GTF2H1" class="nb" transform="translate(639,1028)"><use href="#bb"/><text>GTF2H1</text></g>
<g id="b-CHST11" class="nb" transform="translate(679,1029)"><use href="#bb"/><text>CHST11</text></g>
<g id="b-CAMK2N1" class="nb" transform="translate(723,1031)"><use href="#bb"/><text>CAMK2N1</text></g>
<g id="b-SSX2" class="nb" transform="translate(469,1030)"><use href="#bb"/><text>SSX2</text></g>
<g id="b-BTBD9" class="nb" transform="translate(495,1028)"><use href="#bb"/><text>BTBD9</text></g>
<g id="b-PCDH11Y" class="nb" transform="translate(527,1029)"><use href="#bb"/><text>PCDH11Y</text></g>
<g id="b-SLC43A3" class="nb" transform="translate(574,1027)"><use href="#bb"/><text>SLC43A3</text></g>
<g id="b-MYO5A" class="nb" transform="translate(409,1037)"><use href="#bb"/><text>MYO5A</text></g>
<g id="b-CYLC2" class="nb" transform="translate(337,1037)"><use href="#bb"/><text>CYLC2</text></g>
<g id="b-KATNAL1" class="nb" transform="translate(439,1041)"><use href="#bb"/><text>KATNAL1</text></g>
<g id="b-RALGAPB" class="nb" transform="translate(588,1041)"><use href="#bb"/><text>RALGAPB</text></g>
<g id="b-SLC7A2" class="nb" transform="translate(627,1039)"><use href="#bb"/><text>SLC7A2</text></g>
<g id="b-CHAF1B" class="nb" transform="translate(644,1039)"><use href="#bb"/><text>CHAF1B</text></g>
<g id="b-ZBTB20" class="nb" transform="translate(687,1046)"><use href="#bb"/><text>ZBTB20</text></g>
<g id="b-DDHD1" class="nb" transform="translate(489,1044)"><use href="#bb"/><text>DDHD1</text></g>
<g id="b-CYP4F11" class="nb" transform="translate(524,1044)"><use href="#bb"/><text>CYP4F11</text></g>
<g id="b-SAMD9L" class="nb" transform="translate(553,1047)"><use href="#bb"/><text>SAMD9L</text></g>
<g id="b-CLIC6" class="nb" transform="translate(357,1046)"><use href="#bb"/><text>CLIC6</text></g>
<g id="b-SYNPO" class="nb" transform="translate(392,1049)"><use href="#bb"/><text>SYNPO</text></g>
<g id="b-SLC9A1" class="nb" transform="translate(305,1049)"><use href="#bb"/><text>SLC9A1</text></g>
<g id="b-PPFIA2" class="nb" transform="translate(597,1052)"><use href="#bb"/><text>PPFIA2</text></g>
<g id="b-BDH1" class="nb" transform="translate(612,1049)"><use href="#bb"/><text>BDH1</text></g>
<g id="b-DIO1" class="nb" transform="translate(627,1052)"><use href="#bb"/><text>DIO1</text></g>
<g id="b-CD93" class="nb" transform="translate(661,1049)"><use href="#bb"/><text>CD93</text></g>
<g id="b-SIGMAR1" class="nb" transform="translate(721,1047)"><use href="#bb"/><text>SIGMAR1</text></g>
<g id="b-C15orf41" class="nb" transform="translate(341,1054)"><use href="#bb"/><text>C15orf41</text></g>
<g id="b-PAX5" class="nb" transform="translate(423,1054)"><use href="#bb"/><text>PAX5</text></g>
<g id="b-BUB1" class="nb" transform="translate(488,1054)"><use href="#bb"/><text>BUB1</text></g>
<g id="b-RTN4RL1" class="nb" transform="translate(523,1058)"><use href="#bb"/><text>RTN4RL1</text></g>
<g id="b-MRPS23" class="nb" transform="translate(718,1059)"><use href="#bb"/><text>MRPS23</text></g>
<g id="b-MGRN1" class="nb" transform="translate(627,1063)"><use href="#bb"/><text>MGRN1</text></g>
<g id="b-RAB3C" class="nb" transform="translate(433,1064)"><use href="#bb"/><text>RAB3C</text></g>
<g id="b-STOX2" class="nb" transform="translate(476,1063)"><use href="#bb"/><text>STOX2</text></g>
<g id="b-XRCC3" class="nb" transform="translate(551,1064)"><use href="#bb"/><text>XRCC3</text></g>
<g id="b-SLC7A11" class="nb" transform="translate(585,1066)"><use href="#bb"/><text>SLC7A11</text></g>
<g id="b-PAPSS2" class="nb" transform="translate(662,1067)"><use href="#bb"/><text>PAPSS2</text></g>
<g id="b-JAKMIP2" class="nb" transform="translate(692,1067)"><use href="#bb"/><text>JAKMIP2</text></g>
<g id="b-IGLON5" class="nb" transform="translate(321,1072)"><use href="#bb"/><text>IGLON5</text></g>
<g id="b-MYO1F" class="nb" transform="translate(353,1068)"><use href="#bb"/><text>MYO1F</text></g>
<g id="b-SCD" class="nb" transform="translate(385,1067)"><use href="#bb"/><text>SCD</text></g>
<g id="b-CREB3L2" class="nb" transform="translate(505,1068)"><use href="#bb"/><text>CREB3L2</text></g>
<g id="b-NT5DC1" class="nb" transform="translate(444,1075)"><use href="#bb"/><text>NT5DC1</text></g>
<g id="b-PLEC" class="nb" transform="translate(612,1074)"><use href="#bb"/><text>PLEC</text></g>
<g id="b-GLYR1" class="nb" transform="translate(580,1077)"><use href="#bb"/><text>GLYR1</text></g>
<g id="b-SLCO4C1" class="nb" transform="translate(701,1081)"><use href="#bb"/><text>SLCO4C1</text></g>
<g id="b-IFFO2" class="nb" transform="translate(637,1078)"><use href="#bb"/><text>IFFO2</text></g>
<g id="b-RGS4" class="nb" transform="translate(544,1078)"><use href="#bb"/><text>RGS4</text></g>
<g id="b-CHRDL1" class="nb" transform="translate(404,1078)"><use href="#bb"/><text>CHRDL1</text></g>
<g id="b-KCNQ3" class="nb" transform="translate(518,1078)"><use href="#bb"/><text>KCNQ3</text></g>
<g id="b-PLAAT3" class="nb" transform="translate(487,1079)"><use href="#bb"/><text>PLAAT3</text></g>
<g id="b-GFRA1" class="nb" transform="translate(672,1084)"><use href="#bb"/><text>GFRA1</text></g>
<g id="b-P3H2" class="nb" transform="translate(327,1085)"><use href="#bb"/><text>P3H2</text></g>
<g id="b-SRGAP2" class="nb" transform="translate(371,1082)"><use href="#bb"/><text>SRGAP2</text></g>
<g id="b-MYCBP" class="nb" transform="translate(444,1087)"><use href="#bb"/><text>MYCBP</text></g>
<g id="b-GRK3" class="nb" transform="translate(552,1088)"><use href="#bb"/><text>GRK3</text></g>
<g id="b-CALML4" class="nb" transform="translate(579,1088)"><use href="#bb"/><text>CALML4</text></g>
<g id="b-FOXN3" class="nb" transform="translate(615,1088)"><use href="#bb"/><text>FOXN3</text></g>
<g id="b-MAP7D1" class="nb" transform="translate(482,1093)"><use href="#bb"/><text>MAP7D1</text></g>
<g id="b-TMEM106B" class="nb" transform="translate(518,1092)"><use href="#bb"/><text>TMEM106B</text></g>
<g id="b-DCAKD" class="nb" transform="translate(360,1092)"><use href="#bb"/><text>DCAKD</text></g>
<g id="b-BRCC3" class="nb" transform="translate(694,1096)"><use href="#bb"/><text>BRCC3</text></g>
<g id="b-TNS4" class="nb" transform="translate(389,1096)"><use href="#bb"/><text>TNS4</text></g>
<g id="b-MAP2" class="nb" transform="translate(605,1100)"><use href="#bb"/><text>MAP2</text></g>
<g id="b-SH3TC2" class="nb" transform="translate(638,1101)"><use href="#bb"/><text>SH3TC2</text></g>
<g id="b-PLXDC2" class="nb" transform="translate(668,1107)"><use href="#bb"/><text>PLXDC2</text></g>
<g id="b-KIF1B" class="nb" transform="translate(544,1102)"><use href="#bb"/><text>KIF1B</text></g>
<g id="b-SON" class="nb" transform="translate(575,1103)"><use href="#bb"/><text>SON</text></g>
<g id="b-ZRANB1" class="nb" transform="translate(494,1106)"><use href="#bb"/><text>ZRANB1</text></g>
<g id="b-LCOR" class="nb" transform="translate(443,1105)"><use href="#bb"/><text>LCOR</text></g>
<g id="b-IGF1" class="nb" transform="translate(417,1108)"><use href="#bb"/><text>IGF1</text></g>
<g id="b-EPHA5" class="nb" transform="translate(353,1106)"><use href="#bb"/><text>EPHA5</text></g>
<g id="b-GABRB2" class="nb" transform="translate(697,1113)"><use href="#bb"/><text>GABRB2</text></g>
<g id="b-MBNL3" class="nb" transform="translate(383,1114)"><use href="#bb"/><text>MBNL3</text></g>
<g id="b-PAG1" class="nb" transform="translate(518,1112)"><use href="#bb"/><text>PAG1</text></g>
<g id="b-BMPR1A" class="nb" transform="translate(577,1114)"><use href="#bb"/><text>BMPR1A</text></g>
<g id="b-GIMAP1" class="nb" transform="translate(546,1117)"><use href="#bb"/><text>GIMAP1</text></g>
<g id="b-ZDHHC15" class="nb" transform="translate(625,1113)"><use href="#bb"/><text>ZDHHC15</text></g>
<g id="b-PRKCB" class="nb" transform="translate(465,1114)"><use href="#bb"/><text>PRKCB</text></g>
<g id="b-C3orf38" class="nb" transform="translate(429,1121)"><use href="#bb"/><text>C3orf38</text></g>
<g id="b-FAM117B" class="nb" transform="translate(492,1124)"><use href="#bb"/><text>FAM117B</text></g>
<g id="b-GLP1R" class="nb" transform="translate(604,1123)"><use href="#bb"/><text>GLP1R</text></g>
<g id="b-HPS3" class="nb" transform="translate(634,1126)"><use href="#bb"/><text>HPS3</text></g>
<g id="b-ZEB1" class="nb" transform="translate(658,1127)"><use href="#bb"/><text>ZEB1</text></g>
<g id="b-SLC35E3" class="nb" transform="translate(691,1125)"><use href="#bb"/><text>SLC35E3</text></g>
<g id="b-MXD1" class="nb" transform="translate(456,1128)"><use href="#bb"/><text>MXD1</text></g>
<g id="b-BNC2" class="nb" transform="translate(522,1128)"><use href="#bb"/><text>BNC2</text></g>
<g id="b-OLR1" class="nb" transform="translate(552,1131)"><use href="#bb"/><text>OLR1</text></g>
<g id="b-NCDN" class="nb" transform="translate(575,1131)"><use href="#bb"/><text>NCDN</text></g>
<g id="b-LHFPL6" class="nb" transform="translate(364,1130)"><use href="#bb"/><text>LHFPL6</text></g>
<g id="b-CARNS1" class="nb" transform="translate(396,1131)"><use href="#bb"/><text>CARNS1</text></g>
<g id="b-TOB2" class="nb" transform="translate(658,1138)"><use href="#bb"/><text>TOB2</text></g>
<g id="b-TRAF3" class="nb" transform="translate(603,1139)"><use href="#bb"/><text>TRAF3</text></g>
<g id="b-PLAG1" class="nb" transform="translate(444,1140)"><use href="#bb"/><text>PLAG1</text></g>
<g id="b-ROCK2" class="nb" transform="translate(413,1142)"><use href="#bb"/><text>ROCK2</text></g>
<g id="b-CHORDC1" class="nb" transform="translate(508,1142)"><use href="#bb"/><text>CHORDC1</text></g>
<g id="b-SV2B" class="nb" transform="translate(632,1142)"><use href="#bb"/><text>SV2B</text></g>
<g id="b-SPN" class="nb" transform="translate(473,1145)"><use href="#bb"/><text>SPN</text></g>
<g id="b-INVS" class="nb" transform="translate(582,1146)"><use href="#bb"/><text>INVS</text></g>
<g id="b-OSBPL9" class="nb" transform="translate(545,1148)"><use href="#bb"/><text>OSBPL9</text></g>
<g id="b-RPSAP58" class="nb" transform="translate(384,1149)"><use href="#bb"/><text>RPSAP58</text></g>
<g id="b-KIAA0895L" class="nb" transform="translate(434,1154)"><use href="#bb"/><text>KIAA0895L</text></g>
<g id="b-E2F8" class="nb" transform="translate(622,1153)"><use href="#bb"/><text>E2F8</text></g>
<g id="b-NDFIP2" class="nb" transform="translate(658,1154)"><use href="#bb"/><text>NDFIP2</text></g>
<g id="b-B3GALT5" class="nb" transform="translate(557,1160)"><use href="#bb"/><text>B3GALT5</text></g>
<g id="b-MCM8" class="nb" transform="translate(594,1159)"><use href="#bb"/><text>MCM8</text></g>
<g id="b-NAV1" class="nb" transform="translate(514,1159)"><use href="#bb"/><text>NAV1</text></g>
<g id="b-NR2E1" class="nb" transform="translate(463,1159)"><use href="#bb"/><text>NR2E1</text></g>
<g id="b-FAM199X" class="nb" transform="translate(405,1162)"><use href="#bb"/><text>FAM199X</text></g>
<g id="b-HHIP" class="nb" transform="translate(543,1165)"><use href="#bb"/><text>HHIP</text></g>
<g id="b-VSNL1" class="nb" transform="translate(628,1166)"><use href="#bb"/><text>VSNL1</text></g>
<g id="b-MAPK10" class="nb" transform="translate(498,1170)"><use href="#bb"/><text>MAPK10</text></g>
<g id="b-ACVR2B" class="nb" transform="translate(597,1171)"><use href="#bb"/><text>ACVR2B</text></g>
<g id="b-DBT" class="nb" transform="translate(565,1173)"><use href="#bb"/><text>DBT</text></g>
<g id="b-TIPRL" class="nb" transform="translate(424,1173)"><use href="#bb"/><text>TIPRL</text></g>
<g id="b-AKAP2" class="nb" transform="translate(453,1175)"><use href="#bb"/><text>AKAP2</text></g>
<g id="b-FAM83C" class="nb" transform="translate(639,1177)"><use href="#bb"/><text>FAM83C</text></g>
<g id="b-DOK6" class="nb" transform="translate(529,1179)"><use href="#bb"/><text>DOK6</text></g>
<g id="b-CDKL1" class="nb" transform="translate(598,1187)"><use href="#bb"/><text>CDKL1</text></g>
<g id="b-CDK15" class="nb" transform="translate(473,1188)"><use href="#bb"/><text>CDK15</text></g>
<g id="b-MITF" class="nb" transform="translate(498,1187)"><use href="#bb"/><text>MITF</text></g>
<g id="b-CTSE" class="nb" transform="translate(565,1189)"><use href="#bb"/><text>CTSE</text></g>
<g id="b-THRA" class="nb" transform="translate(529,1194)"><use href="#bb"/><text>THRA</text></g>
</g>
<g id="hubs-b">
<g id="b-circ_0002647"><ellipse cx="254" cy="889" rx="9" ry="4.5" fill="#f7a21b"/><text class="cb" x="254" y="889">hsa_circ_0002647</text></g>
<g id="b-miR-370-3p"><use href="#tb" x="230" y="725"/><text class="hb" x="230" y="725">hsa-miR-370-3p</text></g>
<g id="b-miR-548"><use href="#tb" x="409" y="728"/><text class="hb" x="409" y="728">hsa-miR-548</text></g>
<g id="b-miR-526"><use href="#tb" x="100" y="823"/><text class="hb" x="100" y="823">hsa-miR-526</text></g>
<g id="b-miR-637"><use href="#tb" x="93" y="993"/><text class="hb" x="93" y="993">hsa-miR-637</text></g>
<g id="b-miR-326"><use href="#tb" x="247" y="1148"/><text class="hb" x="247" y="1148">hsa-miR-326</text></g>
<g id="b-miR-574-5p"><use href="#tb" x="518" y="1015"/><text class="hb" x="518" y="1015">hsa-miR-574-5p</text></g>
</g>
</svg>
